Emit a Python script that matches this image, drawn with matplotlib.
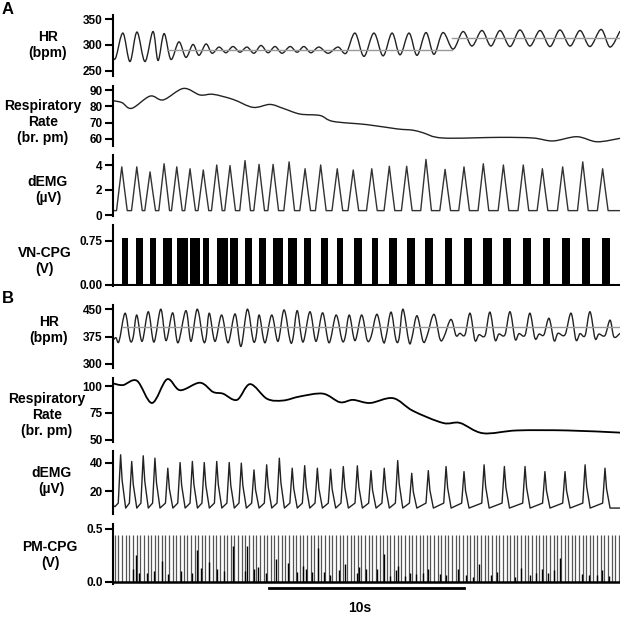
import numpy as np
import matplotlib
matplotlib.use("Agg")
import matplotlib.pyplot as plt
from matplotlib.path import Path
from matplotlib.patches import PathPatch

plt.rcParams['font.family'] = ['Liberation Sans', 'DejaVu Sans']
plt.rcParams['font.weight'] = 'bold'

# ---------------- data (time in s) ----------------
# Panel A - heart rate (peaks / troughs)
hr_a_t = [0.00, 0.15, 0.51, 0.87, 1.23, 1.64, 2.05, 2.31, 2.62, 2.97, 3.38, 3.74, 4.10, 4.41,
          4.77, 5.08, 5.44, 5.79, 6.15, 6.51, 6.87, 7.23, 7.59, 7.95, 8.31, 8.67, 9.08, 9.44,
          9.79, 10.15, 10.56, 11.03, 11.54, 11.95, 12.41, 12.87, 13.38, 13.85, 14.31, 14.72,
          15.18, 15.59, 16.05, 16.46, 16.92, 17.44, 17.95, 18.41, 18.92, 19.38, 19.85, 20.36,
          20.87, 21.38, 21.90, 22.41, 22.92, 23.44, 23.95, 24.46, 25.03, 25.49, 26.00]
hr_a_v = [275, 276, 323, 268, 325, 268, 326, 270, 322, 272, 306, 276, 301, 280,
          302, 284, 296, 285, 297, 286, 296, 284, 299, 285, 297, 284, 297, 286,
          297, 285, 296, 284, 296, 284, 323, 278, 323, 279, 323, 281,
          323, 280, 324, 282, 324, 292, 326, 298, 328, 298, 328, 297,
          329, 298, 328, 297, 329, 298, 328, 297, 330, 296, 327]
hr_a_mean_t = [[2.75, 17.40], [17.40, 26.00]]
hr_a_mean_v = [290, 313]

# Panel A - respiratory rate
rr_a_t = [0.00, 0.46, 0.96, 1.90, 2.58, 3.61, 4.46, 5.13, 6.15, 7.18, 8.05, 8.72, 9.59,
          10.62, 11.28, 13.03, 14.56, 15.38, 15.90, 16.92, 19.85, 21.54, 22.56, 23.79, 24.82, 26.00]
rr_a_v = [83.5, 82.3, 78.8, 86.3, 84.0, 91.0, 87.0, 87.4, 84.3, 79.4, 81.2, 78.8, 75.3,
          74.4, 70.8, 68.8, 66.2, 65.4, 63.8, 60.6, 61.0, 60.6, 58.8, 61.4, 58.3, 60.4]

# Panel A - dEMG peaks
demg_a_peak_t = [0.45, 1.22, 1.90, 2.62, 3.27, 3.95, 4.63, 5.32, 6.00, 6.77, 7.49, 8.21, 9.03,
                 9.85, 10.65, 11.50, 12.32, 13.27, 14.17, 15.06, 16.05, 17.03, 18.00, 18.99,
                 20.02, 21.04, 22.02, 23.06, 24.09, 25.11]
demg_a_peak_v = [3.85, 3.85, 3.45, 4.10, 3.85, 3.70, 3.60, 4.00, 3.95, 4.35, 4.05, 4.05, 4.25,
                 3.70, 4.00, 3.70, 3.60, 3.70, 3.90, 3.90, 4.45, 3.65, 3.85, 4.10,
                 4.00, 4.00, 3.70, 3.85, 4.25, 3.70]
demg_a_base = 0.35

# Panel A - VN-CPG bursts
vn_start = [0.45, 1.18, 1.90, 2.58, 3.27, 3.95, 4.63, 5.32, 6.00, 6.77, 7.50, 8.22, 8.99, 9.79,
            10.65, 11.47, 12.36, 13.27, 14.17, 15.06, 16.00, 17.03, 18.00, 18.99, 20.02, 21.01,
            22.04, 23.01, 24.04, 25.06]
vn_width = [0.34, 0.37, 0.31, 0.43, 0.60, 0.51, 0.31, 0.60, 0.43, 0.34, 0.37, 0.51, 0.43, 0.36,
            0.39, 0.34, 0.39, 0.34, 0.37, 0.43, 0.39, 0.34, 0.39, 0.43, 0.37, 0.41,
            0.37, 0.43, 0.43, 0.43]
vn_top = 0.80

# Panel B - heart rate
hr_b_t = [0.00, 0.15, 0.31, 0.62, 0.87, 1.03, 1.22, 1.49, 1.81, 2.10, 2.45, 2.72, 3.06, 3.33,
          3.74, 4.00, 4.32, 4.62, 4.77, 4.94, 5.23, 5.57, 5.90, 6.26, 6.56, 6.89, 7.18, 7.33,
          7.50, 7.79, 8.14, 8.46, 8.77, 9.08, 9.23, 9.45, 9.74, 10.10, 10.41, 10.75, 11.08,
          11.44, 11.74, 11.90, 12.12, 12.41, 12.75, 13.03, 13.23, 13.54, 13.85, 14.00, 14.26,
          14.51, 14.67, 14.87, 15.18, 15.33, 15.59, 15.90, 16.10, 16.46, 16.77, 16.97, 17.33,
          17.59, 17.79, 18.05, 18.31, 18.56, 18.77, 19.08, 19.33, 19.59, 19.79, 20.10, 20.36,
          20.62, 20.82, 21.13, 21.38, 21.64, 21.85, 22.10, 22.36, 22.62, 22.82, 23.18, 23.49,
          23.74, 23.95, 24.21, 24.46, 24.72, 24.92, 25.23, 25.49, 25.69, 26.00]
hr_b_v = [365, 372, 362, 439, 366, 372, 434, 362, 443, 360, 450, 364, 440, 358,
          446, 362, 450, 366, 370, 439, 362, 434, 358, 437, 348, 450, 366, 372,
          434, 358, 434, 362, 448, 364, 370, 446, 360, 443, 362, 440, 358,
          434, 366, 372, 434, 364, 434, 366, 374, 436, 362, 374, 442,
          366, 370, 450, 360, 372, 432, 362, 376, 436, 368, 374, 422,
          378, 384, 380, 439, 365, 380, 378, 442, 366, 382, 380, 443,
          368, 383, 379, 439, 370, 382, 380, 425, 364, 384, 380, 439,
          366, 383, 378, 443, 370, 382, 378, 420, 374, 384]
hr_b_mean_t = [0.5, 26.0]
hr_b_mean_v = 401

# Panel B - respiratory rate
rr_b_t = [0.00, 0.51, 1.23, 2.00, 2.77, 3.44, 4.46, 5.13, 5.64, 6.36, 7.03, 7.90, 8.72, 9.59,
          10.77, 11.64, 12.31, 13.18, 14.36, 15.38, 16.92, 17.79, 18.97, 20.72, 23.28, 25.85, 26.00]
rr_b_v = [102.6, 101.0, 105.0, 84.3, 106.4, 96.2, 103.2, 94.6, 93.0, 87.2, 101.9, 88.2, 86.6, 90.4,
          93.0, 85.0, 87.2, 84.3, 88.8, 77.0, 65.7, 65.7, 56.1, 58.7, 58.7, 56.8, 56.6]

# Panel B - dEMG peaks
demg_b_peak_t = [0.39, 0.96, 1.55, 2.15, 2.81, 3.44, 4.07, 4.68, 5.32, 5.96, 6.58, 7.23, 7.88,
                 8.53, 9.19, 9.83, 10.48, 11.16, 11.81, 12.53, 13.23, 13.91, 14.60, 15.32,
                 16.17, 17.08, 18.00, 19.03, 20.07, 21.13, 22.15, 23.18, 24.21, 25.23]
demg_b_peak_v = [45.7, 41.0, 45.0, 43.3, 36.2, 40.2, 41.0, 40.2, 41.0, 40.2, 39.8, 35.0, 38.6,
                 43.3, 36.2, 38.0, 36.2, 35.5, 37.4, 37.9, 34.5, 36.2, 41.6, 32.6,
                 34.5, 37.4, 33.8, 38.6, 37.4, 37.4, 33.8, 33.8, 38.6, 36.2]
demg_b_trough = 8.0
demg_b_rise = 11.5

# Panel B - PM-CPG spikes
pm_spike_t = [0.10, 0.28, 0.47, 0.65, 0.84, 1.02, 1.21, 1.40, 1.58, 1.77, 1.95, 2.14, 2.33, 2.51,
              2.69, 2.88, 3.07, 3.25, 3.44, 3.63, 3.81, 4.00, 4.18, 4.37, 4.56, 4.74, 4.93, 5.11,
              5.30, 5.48, 5.67, 5.86, 6.04, 6.23, 6.42, 6.60, 6.79, 6.97, 7.16, 7.35, 7.53, 7.72,
              7.90, 8.09, 8.28, 8.46, 8.65, 8.83, 9.02, 9.21, 9.39, 9.58, 9.76, 9.95, 10.14,
              10.32, 10.51, 10.69, 10.88, 11.07, 11.25, 11.44, 11.62, 11.81, 12.00, 12.18, 12.37,
              12.55, 12.74, 12.93, 13.11, 13.30, 13.48, 13.67, 13.86, 14.04, 14.23, 14.41, 14.60,
              14.79, 14.97, 15.16, 15.34, 15.53, 15.72, 15.90, 16.09, 16.27, 16.46, 16.65, 16.83,
              17.02, 17.20, 17.39, 17.58, 17.76, 17.95, 18.13, 18.32, 18.51, 18.69, 18.88, 19.06,
              19.25, 19.44, 19.62, 19.81, 19.99, 20.18, 20.37, 20.55, 20.74, 20.92, 21.11, 21.30,
              21.48, 21.67, 21.85, 22.04, 22.23, 22.41, 22.60, 22.78, 22.97, 23.16, 23.34, 23.53,
              23.71, 23.90, 24.09, 24.27, 24.46, 24.64, 24.83, 25.02, 25.20, 25.39, 25.57, 25.76,
              25.95]
pm_spike_top = 0.445
pm_small_t = [1.01, 1.16, 1.35, 1.76, 2.12, 2.53, 2.84, 3.47, 4.03, 4.29, 4.50, 4.94, 5.32, 5.71,
              6.14, 6.77, 6.89, 7.23, 7.45, 7.85, 8.36, 8.99, 9.45, 9.76, 9.90, 10.22, 10.53,
              10.82, 11.13, 11.59, 11.90, 12.50, 12.63, 12.97, 13.55, 13.90, 14.21, 14.50, 14.63,
              14.97, 15.23, 15.54, 15.88, 16.17, 16.77, 17.08, 17.71, 18.09, 18.45, 18.77, 19.37,
              19.71, 20.62, 20.92, 21.38, 21.69, 21.98, 22.29, 22.62, 22.92, 24.04, 24.43, 24.80,
              25.09, 25.45]
pm_small_v = [0.12, 0.25, 0.08, 0.08, 0.10, 0.20, 0.07, 0.10, 0.08, 0.30, 0.13, 0.19, 0.12, 0.10,
              0.34, 0.10, 0.34, 0.12, 0.14, 0.08, 0.21, 0.18, 0.09, 0.15, 0.12, 0.09, 0.32,
              0.09, 0.06, 0.11, 0.17, 0.08, 0.14, 0.12, 0.12, 0.26, 0.05, 0.11, 0.15,
              0.05, 0.08, 0.07, 0.08, 0.12, 0.07, 0.06, 0.12, 0.06, 0.04, 0.17, 0.06,
              0.09, 0.04, 0.13, 0.06, 0.08, 0.12, 0.08, 0.11, 0.22, 0.07, 0.06, 0.06,
              0.11, 0.05]

# ---------------- helpers ----------------
W, H = 624, 617
fig = plt.figure(figsize=(W / 100, H / 100), dpi=100)


def make_axes(top, bottom):
    ax = fig.add_axes([113 / W, 1 - bottom / H, 507 / W, (bottom - top) / H])
    ax.set_xlim(0, 26)
    for s in ['top', 'right', 'bottom']:
        ax.spines[s].set_visible(False)
    ax.spines['left'].set_linewidth(1.5)
    ax.set_xticks([])
    ax.tick_params(axis='y', direction='out', length=6, width=1.5, pad=1.5, labelsize=8.5)
    ax.patch.set_visible(False)
    return ax


def smooth_trace(ax, t, v, **kw):
    # Catmull-Rom curve through the read nodes, drawn as a bezier path
    p = np.column_stack([t, v]).astype(float)
    verts = [p[0]]
    codes = [Path.MOVETO]
    n = len(p)
    for i in range(n - 1):
        p0 = p[max(i - 1, 0)]
        p1 = p[i]
        p2 = p[i + 1]
        p3 = p[min(i + 2, n - 1)]
        verts += [p1 + (p2 - p0) / 6, p2 - (p3 - p1) / 6, p2]
        codes += [Path.CURVE4] * 3
    ax.add_patch(PathPatch(Path(verts, codes), fill=False, **kw))


def label(x, y, text):
    fig.text(x / W, 1 - y / H, text, ha='center', va='center', fontsize=10,
             fontweight='bold', linespacing=1.15, multialignment='center')


trace = dict(color='#222222', lw=1.0)

# ---------------- panel A ----------------
ax = make_axes(15, 76)
ax.set_ylim(240, 358)
ax.set_yticks([250, 300, 350])
for (t0, t1), m in zip(hr_a_mean_t, hr_a_mean_v):
    ax.plot([t0, t1], [m, m], color='#999999', lw=1.0)
smooth_trace(ax, hr_a_t, hr_a_v, **trace)

ax = make_axes(86, 146)
ax.set_ylim(55.7, 92.5)
ax.set_yticks([60, 70, 80, 90])
smooth_trace(ax, rr_a_t, rr_a_v, **trace)

ax = make_axes(155, 216)
ax.set_ylim(-0.08, 4.8)
ax.set_yticks([0, 2, 4])
xs, ys = [0.0], [demg_a_base]
for pt, pv in zip(demg_a_peak_t, demg_a_peak_v):
    xs += [pt - 0.27, pt - 0.12, pt, pt + 0.12, pt + 0.28]
    ys += [demg_a_base, pv * 0.6, pv, pv * 0.6, demg_a_base]
xs.append(26.0)
ys.append(demg_a_base)
ax.plot(xs, ys, color='#333333', lw=1.0)

ax = make_axes(225, 285.5)
ax.set_ylim(-0.01, 1.02)
ax.set_yticks([0, 0.75])
ax.set_yticklabels(['0.00', '0.75'])
ax.bar(vn_start, vn_top, width=vn_width, align='edge', color='black', linewidth=0)
ax.axhline(0, color='black', lw=1.5)

# ---------------- panel B ----------------
ax = make_axes(305, 368)
ax.set_ylim(289, 461.5)
ax.set_yticks([300, 375, 450])
ax.plot(hr_b_mean_t, [hr_b_mean_v, hr_b_mean_v], color='#999999', lw=1.0)
smooth_trace(ax, hr_b_t, hr_b_v, **trace)

ax = make_axes(378, 441.7)
ax.set_ylim(48.2, 107.6)
ax.set_yticks([50, 75, 100])
smooth_trace(ax, rr_b_t, rr_b_v, color='black', lw=1.3)

ax = make_axes(450.7, 514)
ax.set_ylim(3.8, 48.6)
ax.set_yticks([20, 40])
xs, ys = [0.0, 0.1], [10.0, 9.0]
for pt, pv in zip(demg_b_peak_t, demg_b_peak_v):
    xs += [pt - 0.12, pt, pt + 0.08, pt + 0.26]
    ys += [demg_b_rise, pv, pv * 0.6, demg_b_trough]
xs.append(26.0)
ys.append(demg_b_trough)
ax.plot(xs, ys, color='#222222', lw=1.0)

ax = make_axes(524, 584)
ax.set_ylim(-0.022, 0.546)
ax.set_yticks([0, 0.5])
ax.set_yticklabels(['0.0', '0.5'])
ax.vlines(pm_spike_t, 0, pm_spike_top, color='#555555', lw=0.9)
ax.vlines(pm_small_t, 0, pm_small_v, color='black', lw=1.0)
ax.axhline(0, color='black', lw=1.8)
# 10 s scale bar
ax.plot([8, 18], [-0.067, -0.067], color='black', lw=2,
        transform=ax.get_xaxis_transform(), clip_on=False)

# ---------------- labels ----------------
label(48, 45, 'HR\n(bpm)')
label(43, 122, 'Respiratory\nRate\n(br. pm)')
label(48, 190, 'dEMG\n(µV)')
label(45, 261, 'VN-CPG\n(V)')
label(49, 330, 'HR\n(bpm)')
label(47, 415, 'Respiratory\nRate\n(br. pm)')
label(51, 481, 'dEMG\n(µV)')
label(50, 555, 'PM-CPG\n(V)')
fig.text(7.5 / W, 1 - 9 / H, 'A', ha='center', va='center', fontsize=12, fontweight='bold')
fig.text(7.5 / W, 1 - 299 / H, 'B', ha='center', va='center', fontsize=12, fontweight='bold')
fig.text(360 / W, 1 - 608 / H, '10s', ha='center', va='center', fontsize=10, fontweight='bold')

fig.savefig('out.png', dpi=100)
